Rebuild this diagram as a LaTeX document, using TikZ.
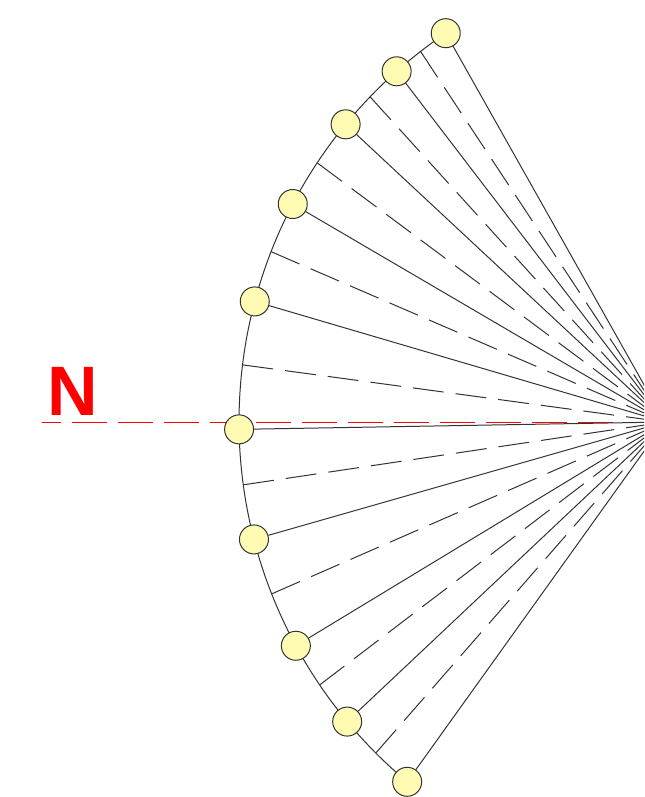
\documentclass[tikz,border=0pt]{standalone}
\usepackage{fontspec}
\setmainfont{Liberation Sans}
\begin{document}
\begin{tikzpicture}[x=0.75pt, y=-0.75pt, line join=round, >=stealth]
\tikzset{
  dot/.style={circle, draw=black!80, fill=yellow!30, line width=0.75pt, minimum size=21.75pt, inner sep=0pt},
  ray/.style={draw=black!80, line width=0.75pt},
  halfray/.style={ray, dash pattern=on 23.25pt off 9pt},
  northline/.style={draw=red, line width=0.75pt, dash pattern=on 26.25pt off 8.25pt, dash phase=12pt}
}
\def \cx{708}
\def \cy{422}
\def \rad{469}
\useasboundingbox (0,0) rectangle (644,797);
\clip (0,0) rectangle (644,797);
\coordinate (apex) at (665,\cy);
\coordinate (west) at (42,\cy);
\draw[ray, smooth, samples=100, domain=124:230.1] plot ({\cx+\rad*cos(\x)},{\cy-\rad*sin(\x)});
\draw[northline] (west) -- (apex);
\node[text=red, font=\fontsize{52.5}{52.5}\selectfont\bfseries, inner sep=0pt] (north) at (72.5,391) {N};
\foreach \a [count=\i] in {124.0,131.6,140.6,152.3,165.1,180.9,194.5,208.5,219.7,230.1}
  \node[dot] (d\i) at ({\cx+\rad*cos(\a)},{\cy-\rad*sin(\a)}) {};
\foreach \a [count=\i] in {127.8,136.1,146.45,158.7,173.0,187.7,201.5,214.1,224.9}
  \coordinate (m\i) at ({\cx+\rad*cos(\a)},{\cy-\rad*sin(\a)});
\foreach \i in {1,...,10}
  \draw[ray] (d\i) -- (apex);
\foreach \i in {1,...,9}
  \draw[halfray] (m\i) -- (apex);
\end{tikzpicture}
\end{document}
